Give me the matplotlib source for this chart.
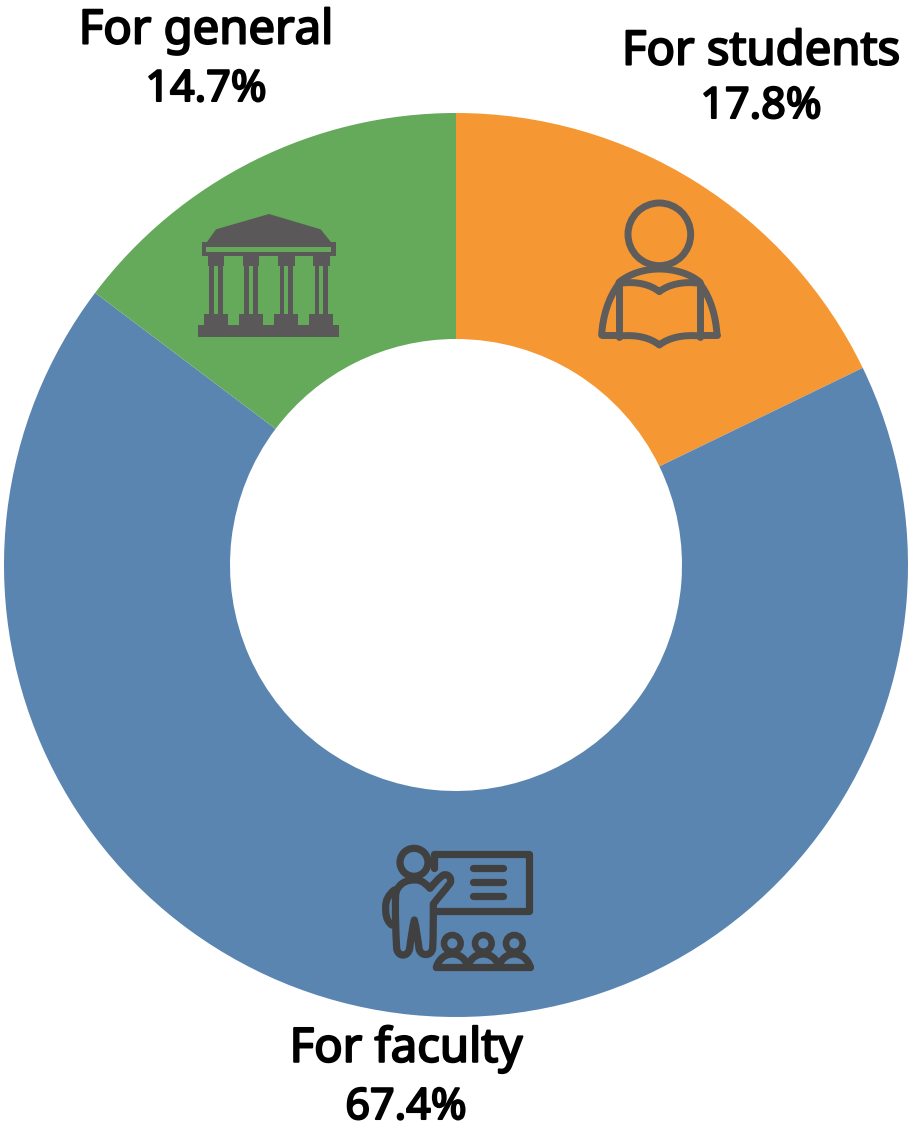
import numpy as np
import matplotlib
matplotlib.use('Agg')
import matplotlib.pyplot as plt
import matplotlib.patheffects as pe
from matplotlib.path import Path
from matplotlib.patches import PathPatch, Circle

W, H = 914, 1130

# Slices, clockwise from 12 o'clock
categories = ['For students', 'For faculty', 'For general']
shares = [17.8, 67.4, 14.7]
colors = ['#F59833', '#5A85B0', '#65AA5A']

# Where the labels sit in the picture (pixels from the top left)
label_x = [761, 406, 206]
name_y = [52, 1049, 31]
share_y = [107, 1108, 90]

plt.rcParams['font.family'] = ['Noto Sans', 'DejaVu Sans']

fig = plt.figure(figsize=(W / 100, H / 100), dpi=100)
ax = fig.add_axes([0, 0, 1, 1])

ax.pie(shares, colors=colors, startangle=90, counterclock=False,
       center=(456, H - 565), radius=452, frame=True,
       wedgeprops=dict(width=226, linewidth=0))
ax.set_xlim(0, W)
ax.set_ylim(0, H)
ax.set_aspect('equal')
ax.axis('off')

# the regular face is the only one picked up, so thicken it with a stroke
bold = [pe.withStroke(linewidth=1.5, foreground='black')]
for name, share, x, y1, y2 in zip(categories, shares, label_x, name_y, share_y):
    ax.text(x, H - y1, name, ha='center', va='center', fontsize=34, color='black', path_effects=bold)
    ax.text(x, H - y2, f'{share}%', ha='center', va='center', fontsize=31, color='black', path_effects=bold)


# The icons were measured on 3x crops, so each one gets its own origin
def to_px(points, origin):
    return [(origin[0] + p[0] / 3, H - (origin[1] + p[1] / 3)) for p in points]


def stroke(points, origin, color, lw, codes=None):
    pts = to_px(points, origin)
    if codes is None:
        codes = [Path.MOVETO] + [Path.LINETO] * (len(pts) - 1)
    ax.add_patch(PathPatch(Path(pts, codes), fill=False, edgecolor=color, lw=lw,
                           capstyle='round', joinstyle='round'))


def curve(points, origin, color, lw):
    # first point, then triples of cubic bezier points
    codes = [Path.MOVETO] + [Path.CURVE4] * (len(points) - 1)
    stroke(points, origin, color, lw, codes)


def block(x0, y0, x1, y1, origin, color):
    pts = to_px([(x0, y0), (x1, y0), (x1, y1), (x0, y1), (x0, y0)], origin)
    ax.fill([p[0] for p in pts], [p[1] for p in pts], color=color, lw=0)


def ring(cx, cy, r, origin, color, lw):
    c = to_px([(cx, cy)], origin)[0]
    ax.add_patch(Circle(c, r / 3, fill=False, edgecolor=color, lw=lw))


# building
o = (190, 200)
c = '#5B5859'
pts = to_px([(48, 130), (78, 88), (237, 42), (392, 88), (426, 130)], o)
ax.fill([p[0] for p in pts], [p[1] for p in pts], color=c, lw=0)
block(35, 127, 438, 168, o, c)
block(48, 141, 424, 155, o, colors[2])
for dx in [0, 105, 211, 316]:
    block(53 + dx, 168, 103 + dx, 197, o, c)
    block(58 + dx, 197, 72 + dx, 345, o, c)
    block(84 + dx, 197, 98 + dx, 345, o, c)
    block(42 + dx, 342, 114 + dx, 376, o, c)
block(24, 374, 447, 410, o, c)

# student with book
o = (590, 195)
c = '#5F5C5C'
lw = 5.0
ring(208, 118, 94, o, c, lw)
stroke([(87, 265), (87, 425)], o, c, lw)
stroke([(330, 265), (330, 425)], o, c, lw)
curve([(87, 265), (140, 258), (180, 268), (208, 290), (236, 268), (280, 258), (330, 265)], o, c, lw)
curve([(87, 423), (140, 418), (180, 428), (208, 450), (236, 428), (280, 418), (330, 423)], o, c, lw)
curve([(87, 262), (120, 235), (165, 222), (208, 222), (250, 222), (300, 235), (330, 262)], o, c, lw)
curve([(84, 270), (55, 310), (38, 365), (35, 420)], o, c, lw)
curve([(333, 270), (362, 310), (378, 365), (381, 420)], o, c, lw)
stroke([(35, 420), (87, 420)], o, c, lw)
stroke([(330, 420), (381, 420)], o, c, lw)

# teacher at the board
o = (375, 840)
c = '#404040'
lw = 5.2
ring(117, 67, 42, o, c, lw)
stroke([(178, 85), (178, 42), (462, 42), (462, 212), (178, 212)], o, c, lw)
for y in [84, 125, 168]:
    stroke([(293, y), (385, y)], o, c, lw)
curve([(62, 160), (70, 130), (95, 118), (125, 120),
       (145, 122), (155, 135), (165, 145),
       (178, 130), (190, 115), (205, 105),
       (222, 100), (232, 118), (225, 130),
       (210, 150), (190, 172), (175, 192),
       (175, 240), (175, 290), (173, 325),
       (170, 350), (135, 350), (132, 325),
       (128, 295), (124, 265), (118, 240),
       (112, 265), (108, 295), (104, 325),
       (100, 352), (68, 352), (65, 325),
       (62, 270), (60, 215), (62, 160)], o, c, lw)
curve([(58, 150), (40, 165), (32, 180), (32, 200),
       (32, 220), (32, 240), (50, 255)], o, c, lw)
for cx in [232, 325, 418]:
    ring(cx, 310, 25, o, c, lw * 0.9)
    curve([(cx - 48, 382), (cx - 40, 355), (cx - 20, 342), (cx, 342),
           (cx + 20, 342), (cx + 40, 355), (cx + 48, 382)], o, c, lw)
stroke([(184, 382), (466, 382)], o, c, lw)

fig.savefig('out.png', dpi=100)
